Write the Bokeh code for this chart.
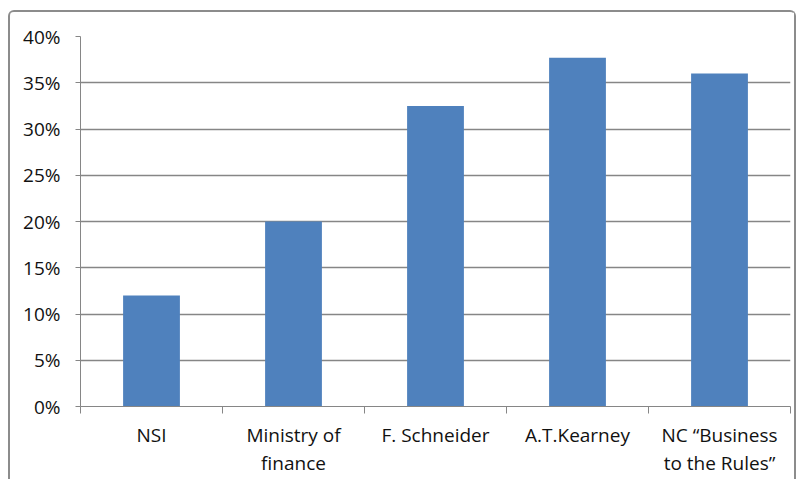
from bokeh.plotting import figure
from bokeh.models import FixedTicker, NumeralTickFormatter, Range1d, ColumnDataSource
from bokeh.embed import file_html
from bokeh.resources import INLINE

categories = ["NSI", "Ministry of\nfinance", "F. Schneider", "A.T.Kearney", "NC \u201cBusiness\nto the Rules\u201d"]
values = [0.12, 0.20, 0.325, 0.377, 0.36]
y_ticks = [0, 0.05, 0.10, 0.15, 0.20, 0.25, 0.30, 0.35, 0.40]

xs = [i + 0.5 for i in range(len(categories))]
src = ColumnDataSource(dict(x=xs, top=values))

p = figure(width=788, height=469, output_backend="svg", toolbar_location=None,
           x_range=Range1d(0, len(categories)), y_range=Range1d(0, 0.40),
           min_border_left=70, min_border_top=24, min_border_right=8, min_border_bottom=75)
p.styles = {"border": "2px solid #8c8c8c", "border-bottom": "none",
            "border-radius": "6px 6px 0 0",
            "margin-left": "8px", "margin-top": "10px"}

p.vbar(x="x", top="top", width=0.4, source=src, fill_color="#4F81BD", line_color=None)

p.outline_line_color = None
p.background_fill_color = "white"
p.border_fill_color = "white"

# x axis
p.xaxis.ticker = FixedTicker(ticks=xs, minor_ticks=list(range(len(categories) + 1)))
p.xaxis.major_label_overrides = {x: c for x, c in zip(xs, categories)}
p.xaxis.major_tick_line_color = None
p.xaxis.minor_tick_line_color = "#868686"
p.xaxis.minor_tick_out = 7
p.xaxis.minor_tick_in = 0
p.xaxis.axis_line_color = "#868686"
p.xaxis.axis_line_width = 1
p.xaxis.major_label_text_font = "Open Sans"
p.xaxis.major_label_text_font_size = "19px"
p.xaxis.major_label_text_color = "#111111"
p.xaxis.major_label_text_line_height = 1.1
p.xaxis.major_label_standoff = 8
p.xgrid.grid_line_color = None

# y axis
p.yaxis.ticker = FixedTicker(ticks=y_ticks)
p.yaxis.formatter = NumeralTickFormatter(format="0%")
p.yaxis.major_tick_line_color = "#868686"
p.yaxis.major_tick_out = 5
p.yaxis.major_tick_in = 0
p.yaxis.minor_tick_line_color = None
p.yaxis.axis_line_color = "#868686"
p.yaxis.major_label_text_font = "Open Sans"
p.yaxis.major_label_text_font_size = "19px"
p.yaxis.major_label_text_color = "#111111"
p.yaxis.major_label_standoff = 15
p.ygrid.ticker = FixedTicker(ticks=y_ticks[1:-1])
p.ygrid.grid_line_color = "#868686"
p.ygrid.grid_line_width = 1.5

open("out.html", "w").write(file_html(p, INLINE))
